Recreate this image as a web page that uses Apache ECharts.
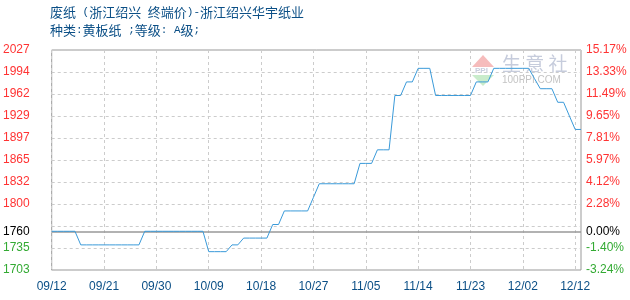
<!DOCTYPE html>
<html>
<head>
<meta charset="utf-8">
<script src="https://cdn.jsdelivr.net/npm/echarts@6/dist/echarts.min.js"></script>
<style>html,body{margin:0;padding:0;background:#fff}#c{width:630px;height:300px}</style>
</head>
<body>
<div id="c"></div>
<script>
var titleLine1 = '废纸 (浙江绍兴 终端价)-浙江绍兴华宇纸业';
var titleLine2 = '种类:黄板纸 ;等级: A级;';
var dates = [
 '09/12','09/13','09/14','09/15','09/16','09/17','09/18','09/19','09/20',
 '09/21','09/22','09/23','09/24','09/25','09/26','09/27','09/28','09/29',
 '09/30','10/01','10/02','10/03','10/04','10/05','10/06','10/07','10/08',
 '10/09','10/10','10/11','10/12','10/13','10/14','10/15','10/16','10/17',
 '10/18','10/19','10/20','10/21','10/22','10/23','10/24','10/25','10/26',
 '10/27','10/28','10/29','10/30','10/31','11/01','11/02','11/03','11/04',
 '11/05','11/06','11/07','11/08','11/09','11/10','11/11','11/12','11/13',
 '11/14','11/15','11/16','11/17','11/18','11/19','11/20','11/21','11/22',
 '11/23','11/24','11/25','11/26','11/27','11/28','11/29','11/30','12/01',
 '12/02','12/03','12/04','12/05','12/06','12/08','12/09','12/10','12/11',
 '12/12','12/13'
];
var prices = [
 1760,1760,1760,1760,1760,1740,1740,1740,1740,
 1740,1740,1740,1740,1740,1740,1740,1760,1760,
 1760,1760,1760,1760,1760,1760,1760,1760,1760,
 1730,1730,1730,1730,1740,1740,1750,1750,1750,
 1750,1750,1770,1770,1790,1790,1790,1790,1790,
 1810,1830,1830,1830,1830,1830,1830,1830,1860,
 1860,1860,1880,1880,1880,1960,1960,1980,1980,
 2000,2000,2000,1960,1960,1960,1960,1960,1960,
 1960,1980,1980,1980,2000,2000,2000,2000,2000,
 2000,2000,1985,1970,1970,1970,1950,1950,1930,
 1910,1910
];
var basePrice = 1760;
var yMin = 1703, yMax = 2027, yStep = 32.4;
var leftTickValues = [1703, 1735.4, 1760, 1800.2, 1832.6, 1865, 1897.4, 1929.8, 1962.2, 1994.6, 2027];
var leftTickLabels = ['1703','1735','1760','1800','1832','1865','1897','1929','1962','1994','2027'];
var rightTickLabels = ['-3.24%','-1.40%','0.00%','2.28%','4.12%','5.97%','7.81%','9.65%','11.49%','13.33%','15.17%'];

function labelIndex(v){
  var best = -1, d = 1e9;
  for (var i = 0; i < leftTickValues.length; i++) {
    var dd = Math.abs(leftTickValues[i] - v);
    if (dd < d) { d = dd; best = i; }
  }
  return d < 1 ? best : -1;
}
function labelColor(v){
  if (Math.abs(v - basePrice) < 1) return '#000000';
  return v > basePrice ? '#ff3333' : '#33aa33';
}
// split text into half-width (monospace) and full-width runs for rich text
function toRich(s){
  var out = '', cur = '', curType = null;
  function flush(){
    if (cur) out += '{' + curType + '|' + cur.replace(/ /g, '\u00a0') + '}';
    cur = '';
  }
  for (var i = 0; i < s.length; i++) {
    var ch = s.charAt(i);
    var t = ch.charCodeAt(0) < 128 ? 'a' : 'c';
    if (t !== curType) { flush(); curType = t; }
    cur += ch;
  }
  flush();
  return out;
}
var titleRich = {
  a: {fontFamily: '"Liberation Mono", monospace', fontSize: 11, color: '#0b4f86'},
  c: {fontFamily: '"Noto Sans CJK SC", sans-serif', fontSize: 13, color: '#0b4f86'}
};

var chart = echarts.init(document.getElementById('c'), null, {renderer: 'canvas'});
var font = '"Liberation Sans", Arial, sans-serif';
var option = {
  animation: false,
  backgroundColor: '#ffffff',
  grid: {left: 50, right: 49, top: 50, bottom: 30, show: true, borderColor: '#999999', borderWidth: 1, backgroundColor: 'transparent'},
  graphic: [
    {type: 'text', left: 50, top: 6, style: {text: toRich(titleLine1), rich: titleRich, fill: '#0b4f86'}},
    {type: 'text', left: 50, top: 24, style: {text: toRich(titleLine2), rich: titleRich, fill: '#0b4f86'}},
    {type: 'polygon', shape: {points: [[483,55],[472,67],[494,67]]}, style: {fill: '#f6bcbc'}, z: 0},
    {type: 'polygon', shape: {points: [[472,75],[494,75],[483,86]]}, style: {fill: '#c9eccb'}, z: 0},
    {type: 'text', x: 475, y: 67, style: {text: 'PPI', fill: '#c8cede', font: 'bold 8px sans-serif'}, z: 0},
    {type: 'text', x: 502, y: 54, style: {text: '生 意 社', fill: '#c6ccdc', font: '19px "Noto Sans CJK SC", sans-serif'}, z: 0},
    {type: 'text', x: 502, y: 75, style: {text: '100PPI.COM', fill: '#c4c4c4', font: '10px ' + font}, z: 0}
  ],
  xAxis: {
    type: 'category',
    data: dates,
    boundaryGap: false,
    axisLine: {show: false},
    axisTick: {show: false},
    axisLabel: {interval: 8, color: '#0b4f86', fontSize: 12, fontFamily: font, margin: 11},
    splitLine: {show: true, interval: 8, lineStyle: {color: '#cccccc', type: [3, 3], width: 1}}
  },
  yAxis: [
    {
      type: 'value', min: yMin, max: yMax, interval: yStep,
      axisLine: {show: false}, axisTick: {show: false},
      splitLine: {show: true, lineStyle: {color: '#cccccc', type: [3, 3], width: 1}},
      axisLabel: {
        customValues: leftTickValues,
        margin: 22, fontSize: 12, fontFamily: font,
        formatter: function(v){ var i = labelIndex(v); return i < 0 ? '' : leftTickLabels[i]; },
        color: function(v){ return labelColor(v); }
      }
    },
    {
      type: 'value', min: yMin, max: yMax, interval: yStep, position: 'right',
      axisLine: {show: false}, axisTick: {show: false}, splitLine: {show: false},
      axisLabel: {
        customValues: leftTickValues,
        margin: 5, fontSize: 12, fontFamily: font,
        formatter: function(v){ var i = labelIndex(v); return i < 0 ? '' : rightTickLabels[i]; },
        color: function(v){ return labelColor(v); }
      }
    }
  ],
  series: [{
    type: 'line',
    data: prices,
    symbol: 'none',
    lineStyle: {color: '#3a9ad9', width: 1},
    z: 5,
    markLine: {
      silent: true, symbol: 'none', animation: false,
      label: {show: false},
      lineStyle: {color: '#999999', type: 'solid', width: 1.5},
      data: [{yAxis: basePrice}]
    }
  }]
};
chart.setOption(option);
</script>
</body>
</html>
